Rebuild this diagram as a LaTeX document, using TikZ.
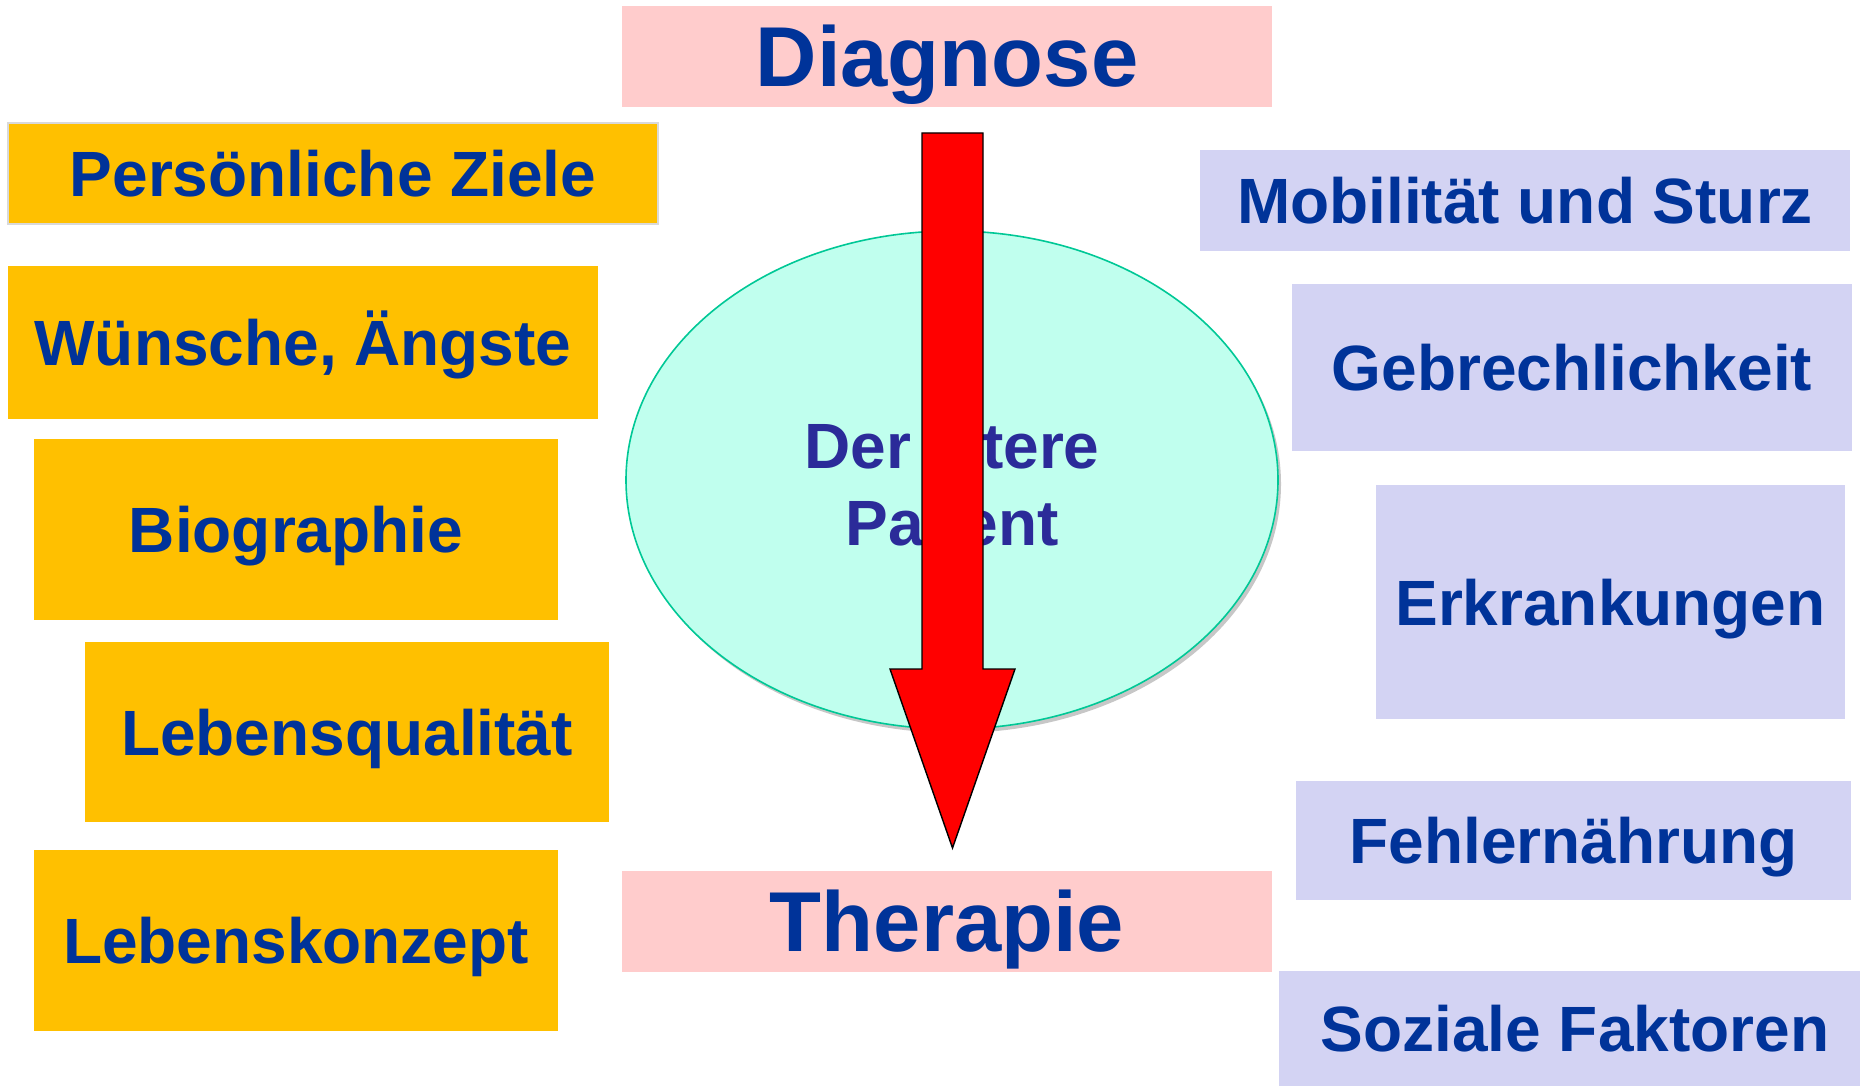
\documentclass[tikz,border=0pt]{standalone}
\usepackage{fontspec}
\setmainfont{Liberation Sans}
\usepackage{xcolor}
\usepackage{tikz}
\usetikzlibrary{positioning, shapes.geometric, shadows}

\definecolor{textblue}{HTML}{003399}
\definecolor{ovaltext}{HTML}{2B2B99}
\definecolor{goldbox}{HTML}{FFC000}
\definecolor{pinkbox}{HTML}{FFCCCC}
\definecolor{lilacbox}{HTML}{D3D3F3}
\definecolor{mintfill}{HTML}{C0FFEE}
\definecolor{mintline}{HTML}{00C896}

\begin{document}
\begin{tikzpicture}[
        x=1pt, y=-1pt,
        box/.style={rectangle, inner sep=0pt, align=center, text=textblue,
            text height=46pt, text depth=0pt,
            font=\fontsize{64}{77}\selectfont\bfseries},
        phase/.style={box, fill=pinkbox, minimum width=650pt, minimum height=101pt,
            text height=61pt, font=\fontsize{85}{90}\selectfont\bfseries},
        person/.style={box, fill=goldbox},
        risk/.style={box, fill=lilacbox},
        patient/.style={ellipse, draw=mintline, line width=1.6pt, fill=mintfill,
            inner sep=0pt,
            drop shadow={shadow xshift=3pt, shadow yshift=-4pt, fill=black!22, opacity=1}},
        ovallabel/.style={inner sep=0pt, align=center, text=ovaltext,
            font=\fontsize{64}{77}\selectfont\bfseries},
        bigarrow/.style={draw=black, line width=1.4pt, fill=red, line join=miter}
    ]
    \useasboundingbox (0,0) rectangle (1860,1086);

    % middle column
    \node[phase] (diagnose) at (947,56.5) {Diagnose};
    \node[phase] (therapie) at (947,921) {Therapie};
    \node[patient, minimum width=652pt, minimum height=498pt] (patient) at (952,480) {};
    \node[ovallabel] (patienttext) at ([yshift=-4pt]patient.center) {Der ältere\\Patient};

    % left column
    \node[person, draw=black!15, line width=1.5pt, minimum width=650pt, minimum height=101pt]
        (ziele) at (333,173.5) {Persönliche Ziele};
    \node[person, minimum width=590pt, minimum height=153pt] (wuensche) at (303,342.5) {Wünsche, Ängste};
    \node[person, minimum width=524pt, minimum height=181pt] (biographie) at (296,529.5) {Biographie};
    \node[person, minimum width=524pt, minimum height=180pt] (lebensq) at (347,732) {Lebensqualität};
    \node[person, minimum width=524pt, minimum height=181pt] (konzept) at (296,940.5) {Lebenskonzept};

    % right column
    \node[risk, minimum width=650pt, minimum height=101pt] (mobil) at (1525,200.5) {Mobilität und Sturz};
    \node[risk, minimum width=560pt, minimum height=167pt] (gebrech) at (1572,367.5) {Gebrechlichkeit};
    \node[risk, minimum width=469pt, minimum height=234pt] (erkrank) at (1610.5,602) {Erkrankungen};
    \node[risk, minimum width=555pt, minimum height=119pt] (fehlern) at (1573.5,840.5) {Fehlernährung};
    \node[risk, minimum width=592pt, minimum height=115pt] (sozial) at (1575,1028.5) {Soziale Faktoren};

    % block arrow from diagnosis to therapy
    \coordinate (shafttop) at (952.5,133);
    \coordinate (tip) at (952.5,848);
    \draw[bigarrow] ([xshift=-30.5pt]shafttop) -- ([xshift=30.5pt]shafttop) -- ++(0,536)
        -- ++(32,0) -- (tip) -- ++(-62.5,-179) -- ++(32,0) -- cycle;

\end{tikzpicture}
\end{document}
